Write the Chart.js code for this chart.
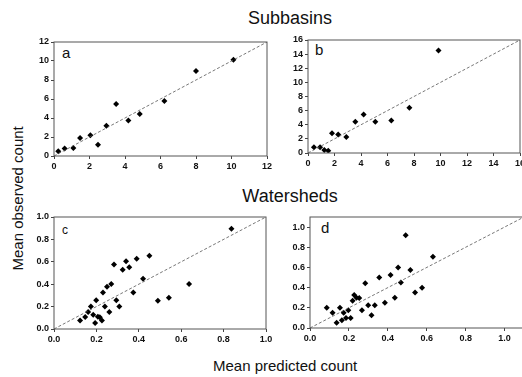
<!DOCTYPE html>
<html>
<head>
<meta charset="utf-8">
<script src="https://cdn.jsdelivr.net/npm/chart.js@4.4.1/dist/chart.umd.min.js"></script>
<style>
  html, body {
    margin: 0;
    padding: 0;
    background: #fff;
    width: 522px;
    height: 377px;
    overflow: hidden;
    position: relative;
    font-family: "Liberation Sans", Arial, sans-serif;
    color: #111;
  }
  canvas, .label {
    position: absolute;
  }
  .title {
    font-size: 18px;
    width: 200px;
    text-align: center;
  }
  .axis-title {
    font-size: 15px;
    white-space: nowrap;
  }
  .letter {
    font-size: 15px;
  }
</style>
</head>
<body>
<div class="label title" style="left:190px; top:8px;">Subbasins</div>
<div class="label title" style="left:190px; top:186px;">Watersheds</div>
<div class="label axis-title" style="left:-54px; top:191px; transform:rotate(-90deg); width:142px; text-align:center;">Mean observed count</div>
<div class="label axis-title" style="left:213px; top:357px;">Mean predicted count</div>
<div class="label letter" style="left:62px; top:44px;">a</div>
<div class="label letter" style="left:315px; top:41px;">b</div>
<div class="label letter" style="left:62px; top:223px; font-size:12px;">c</div>
<div class="label letter" style="left:321px; top:219px;">d</div>

<canvas id="chart-a"></canvas>
<canvas id="chart-b"></canvas>
<canvas id="chart-c"></canvas>
<canvas id="chart-d"></canvas>

<script>
// Subbasins (a, b) and watersheds (c, d): mean predicted vs mean observed count
const aPredicted = [0.24, 0.6, 1.09, 1.47, 2.05, 2.48, 2.95, 3.5, 4.19, 4.83, 6.22, 8.0, 10.11];
const aObserved = [0.49, 0.8, 0.84, 1.9, 2.18, 1.19, 3.19, 5.47, 3.75, 4.42, 5.79, 8.95, 10.14];

const bPredicted = [0.45, 0.91, 1.23, 1.53, 1.81, 2.28, 2.89, 3.57, 4.2, 5.08, 6.29, 7.65, 9.85];
const bObserved = [0.8, 0.8, 0.42, 0.33, 2.78, 2.63, 2.26, 4.42, 5.46, 4.42, 4.6, 6.4, 14.5];

const cPredicted = [0.123, 0.147, 0.161, 0.174, 0.185, 0.194, 0.199, 0.207, 0.216, 0.226, 0.231, 0.24, 0.25, 0.261, 0.27,
  0.283, 0.294, 0.308, 0.324, 0.34, 0.355, 0.374, 0.39, 0.42, 0.45, 0.49, 0.542, 0.637, 0.837];
const cObserved = [0.077, 0.107, 0.152, 0.202, 0.128, 0.054, 0.256, 0.11, 0.104, 0.077, 0.327, 0.202, 0.378, 0.152, 0.402,
  0.577, 0.256, 0.202, 0.53, 0.604, 0.551, 0.327, 0.628, 0.449, 0.655, 0.253, 0.28, 0.402, 0.896];

const dPredicted = [0.086, 0.116, 0.137, 0.154, 0.164, 0.173, 0.185, 0.197, 0.209, 0.219, 0.227, 0.239, 0.253, 0.267, 0.284,
  0.299, 0.316, 0.333, 0.356, 0.385, 0.414, 0.436, 0.453, 0.467, 0.492, 0.516, 0.54, 0.576, 0.632];
const dObserved = [0.2, 0.15, 0.052, 0.2, 0.078, 0.15, 0.1, 0.176, 0.098, 0.27, 0.327, 0.3, 0.297, 0.176, 0.444,
  0.225, 0.127, 0.225, 0.5, 0.25, 0.526, 0.3, 0.6, 0.45, 0.92, 0.575, 0.353, 0.4, 0.706];

// axis ranges per panel
const axisMax = { a: 12, b: 16, c: 1, d: 1.1 };
const tickStep = { a: 2, b: 2, c: 0.2, d: 0.2 };
const tickDecimals = { a: 0, b: 0, c: 1, d: 1 };

// where each plot area sits on the page: left, top, width, height
const plotBoxes = {
  a: [54, 42, 213, 114],
  b: [308, 40, 212, 113],
  c: [54, 217, 212, 112],
  d: [310, 217, 214, 111],
};

const Y_AXIS_W = 30;
const X_AXIS_H = 22;
const PAD_TOP = 8;
const PAD_RIGHT = 12;

// draws the full frame round the plot area
const framePlugin = {
  id: "frame",
  afterDraw(chart) {
    const { ctx, chartArea } = chart;
    ctx.save();
    ctx.strokeStyle = "#555";
    ctx.lineWidth = 1;
    ctx.strokeRect(chartArea.left, chartArea.top, chartArea.right - chartArea.left, chartArea.bottom - chartArea.top);
    ctx.restore();
  },
};

function axisOptions(id, fit) {
  return {
    type: "linear",
    min: 0,
    max: axisMax[id],
    afterFit: fit,
    border: { display: false },
    grid: {
      display: true,
      drawOnChartArea: false,
      drawTicks: true,
      tickLength: 3,
      color: "#444",
    },
    ticks: {
      stepSize: tickStep[id],
      includeBounds: false,
      autoSkip: false,
      maxRotation: 0,
      padding: 2,
      color: "#111",
      font: { family: "'Liberation Sans', Arial, sans-serif", size: 9, weight: "bold" },
      callback: (value) => Number(value).toFixed(tickDecimals[id]),
    },
  };
}

function drawPanel(id, predicted, observed) {
  const [left, top, width, height] = plotBoxes[id];
  const canvas = document.getElementById(`chart-${id}`);
  const cw = Y_AXIS_W + width + PAD_RIGHT;
  const ch = PAD_TOP + height + X_AXIS_H;
  canvas.style.left = left - Y_AXIS_W + "px";
  canvas.style.top = top - PAD_TOP + "px";
  canvas.style.width = cw + "px";
  canvas.style.height = ch + "px";
  canvas.width = cw;
  canvas.height = ch;

  const max = axisMax[id];
  new Chart(canvas, {
    type: "scatter",
    data: {
      datasets: [
        {
          label: "1:1",
          type: "line",
          data: [{ x: 0, y: 0 }, { x: max, y: max }],
          borderColor: "#555",
          borderWidth: 0.8,
          borderDash: [3, 2],
          pointRadius: 0,
          fill: false,
        },
        {
          label: "counts",
          data: predicted.map((x, i) => ({ x: x, y: observed[i] })),
          pointStyle: "rectRot",
          pointRadius: 3,
          backgroundColor: "#000",
          borderColor: "#000",
          borderWidth: 0,
        },
      ],
    },
    options: {
      responsive: false,
      animation: false,
      layout: { padding: { top: PAD_TOP, right: PAD_RIGHT, left: 0, bottom: 0 } },
      plugins: {
        legend: { display: false },
        tooltip: { enabled: false },
      },
      scales: {
        x: axisOptions(id, (scale) => { scale.height = X_AXIS_H; }),
        y: axisOptions(id, (scale) => { scale.width = Y_AXIS_W; }),
      },
    },
    plugins: [framePlugin],
  });
}

drawPanel("a", aPredicted, aObserved);
drawPanel("b", bPredicted, bObserved);
drawPanel("c", cPredicted, cObserved);
drawPanel("d", dPredicted, dObserved);
</script>
</body>
</html>
